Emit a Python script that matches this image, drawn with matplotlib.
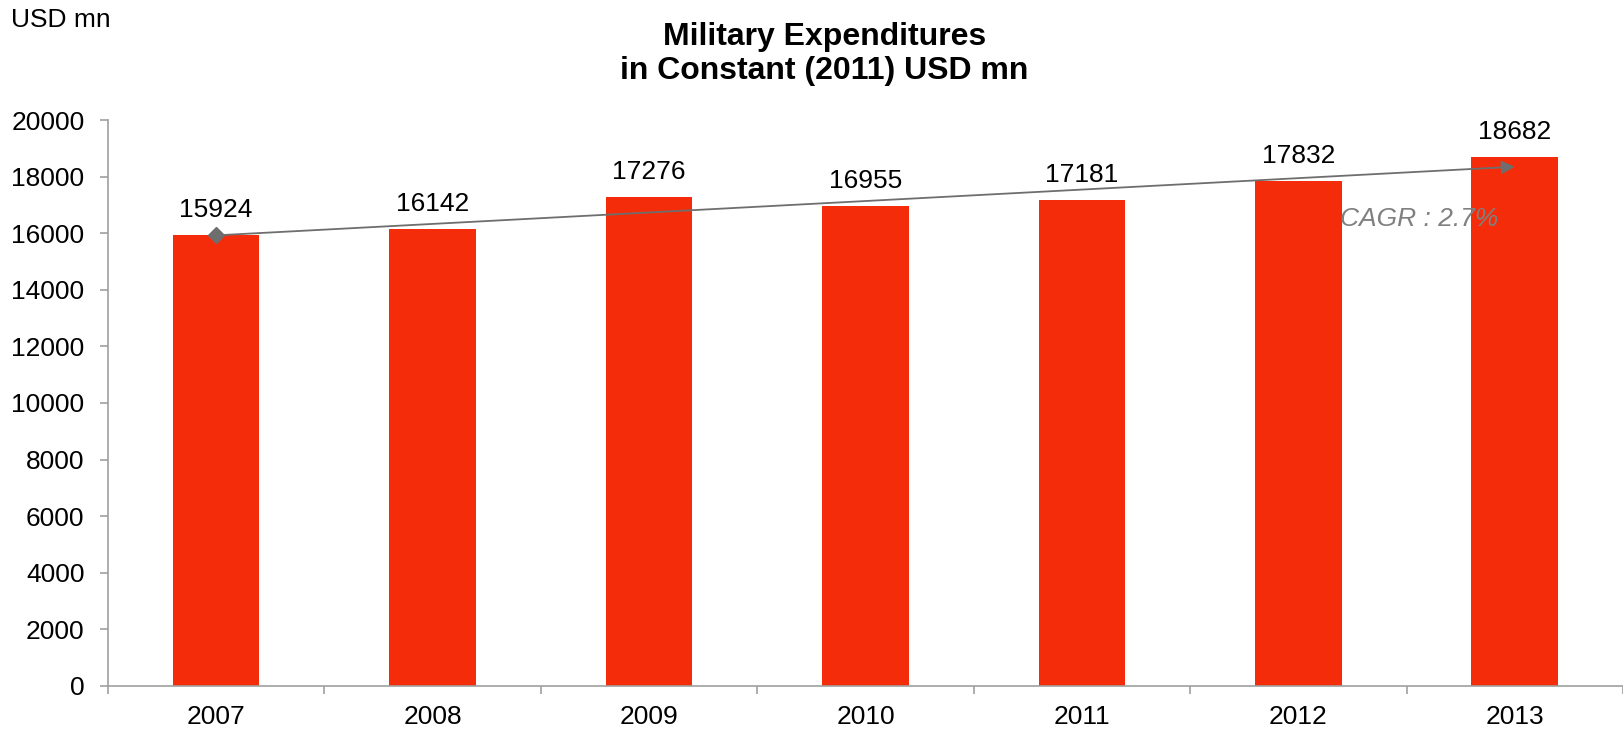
import matplotlib
matplotlib.use("Agg")
import matplotlib.pyplot as plt

plt.rcParams["font.family"] = ["Liberation Sans", "DejaVu Sans"]

years  = ["2007", "2008", "2009", "2010", "2011", "2012", "2013"]
values = [15924, 16142, 17276, 16955, 17181, 17832, 18682]

# trend arrow (start at first bar, end at last bar)
trend_start = 15924
trend_end   = 18350
cagr_label  = "CAGR : 2.7%"

RED, GREY, AXIS = "#F42C0A", "#6E6E6E", "#A0A0A0"

fig = plt.figure(figsize=(16.23, 7.30), dpi=100)
ax = fig.add_axes([0.0665, 0.0603, 0.9335, 0.7753])

x = list(range(len(years)))
ax.bar(x, values, width=0.4, color=RED, zorder=2)

ax.set_xlim(-0.5, len(years) - 0.5)
ax.set_ylim(0, 20000)
ax.set_yticks(range(0, 20001, 2000))
ax.set_xticks(x)
ax.set_xticklabels(years)
ax.set_xticks([i - 0.5 for i in range(len(years) + 1)], minor=True)

ax.tick_params(axis="x", which="major", length=0, pad=14, labelsize=19)
ax.tick_params(axis="x", which="minor", length=5.5, width=1.2, color=AXIS)
ax.tick_params(axis="y", length=5.8, width=1.2, color=AXIS, pad=11, labelsize=19)

for s in ["top", "right"]:
    ax.spines[s].set_visible(False)
for s in ["left", "bottom"]:
    ax.spines[s].set_color(AXIS)
    ax.spines[s].set_linewidth(1.2)

# value labels
for xi, v in zip(x, values):
    ax.annotate(f"{v}", (xi, v), xytext=(0, 18), textcoords="offset points",
                ha="center", va="center", fontsize=19, color="black")

# CAGR trend arrow
ax.annotate("", xy=(x[-1], trend_end), xytext=(x[0], trend_start),
            arrowprops=dict(arrowstyle="-|>", color=GREY, lw=1.3,
                            mutation_scale=20, shrinkA=0, shrinkB=0),
            zorder=4)
ax.plot([x[0]], [trend_start], marker="D", markersize=8, color=GREY, zorder=5)
ax.text(5.56, 16500, cagr_label, ha="center", va="center", fontsize=19,
        style="italic", color="#808080", zorder=5)

fig.text(0.508, 0.926, "Military Expenditures\nin Constant (2011) USD mn",
         ha="center", va="center", fontsize=23, fontweight="bold",
         linespacing=1.2)
fig.text(0.007, 0.972, "USD mn", ha="left", va="center", fontsize=19)

fig.savefig("out.png", dpi=100)
